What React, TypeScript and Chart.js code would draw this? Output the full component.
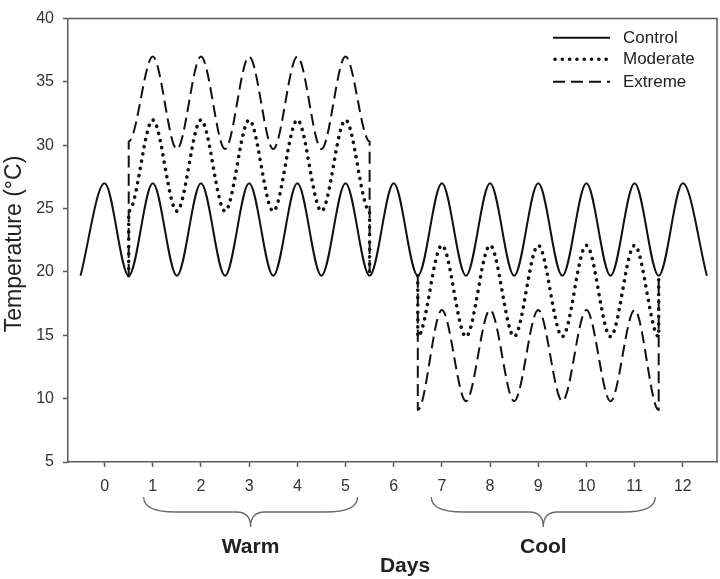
import { useEffect, useRef } from "react";
import { Chart, registerables } from "chart.js";

Chart.register(...registerables);

// ---- Data ----
const xTickValues = [0, 1, 2, 3, 4, 5, 6, 7, 8, 9, 10, 11, 12];
const yTickValues = [5, 10, 15, 20, 25, 30, 35, 40];

const controlDays = [
  -0.5, 0, 0.5, 1, 1.5, 2, 2.5, 3, 3.5, 4, 4.5, 5, 5.5, 6, 6.5, 7, 7.5, 8, 8.5, 9, 9.5, 10, 10.5, 11, 11.5, 12, 12.5,
];
const controlTemps = [
  19.7, 27.0, 19.7, 27.0, 19.7, 27.0, 19.7, 27.0, 19.7, 27.0, 19.7, 27.0, 19.7, 27.0, 19.7, 27.0, 19.7, 27.0, 19.7,
  27.0, 19.7, 27.0, 19.7, 27.0, 19.7, 27.0, 19.7,
];

const warmDays = [0.5, 0.5, 1, 1.5, 2, 2.5, 3, 3.5, 4, 4.5, 5, 5.5, 5.5];
const moderateWarmTemps = [19.7, 24.8, 32.0, 24.8, 32.0, 24.8, 32.0, 24.8, 32.0, 24.8, 32.0, 24.8, 19.7];
const extremeWarmTemps = [19.7, 30.3, 37.0, 29.7, 37.0, 29.7, 37.0, 29.7, 37.0, 29.7, 37.0, 30.3, 19.7];

const coolDays = [6.5, 6.5, 7, 7.5, 8, 8.5, 9, 9.5, 10, 10.5, 11, 11.5, 11.5];
const moderateCoolTemps = [19.7, 14.9, 22.1, 14.9, 22.1, 14.9, 22.1, 14.9, 22.1, 14.9, 22.1, 14.9, 19.7];
const extremeCoolTemps = [19.7, 9.1, 17.0, 9.8, 17.0, 9.8, 17.0, 9.8, 17.0, 9.8, 17.0, 9.1, 19.7];

const seriesNames = ["Control", "Moderate", "Extreme"];
const periodNames = ["Warm", "Cool"];
const periodStarts = [0.81, 6.78];
const periodEnds = [5.25, 11.43];
const xAxisTitle = "Days";
const yAxisTitle = "Temperature (\u00B0C)";

// ---- Styles ----
const FONT = "'Liberation Sans', Arial, Helvetica, sans-serif";
const LINE_COLOR = "#111111";
const AXIS_COLOR = "#5a5a5a";
const TEXT_COLOR = "#333333";

const seriesStyles: Record<string, any> = {
  Control: { borderWidth: 2, borderDash: [], borderCapStyle: "butt" },
  Moderate: { borderWidth: 3.6, borderDash: [0.1, 7.2], borderCapStyle: "round" },
  Extreme: { borderWidth: 2, borderDash: [12, 6], borderCapStyle: "butt" },
};

const toPoints = (xs: number[], ys: number[]) => xs.map((x, i) => ({ x, y: ys[i] }));

const decorPlugin = {
  id: "decor",
  afterDraw(chart: any) {
    const { ctx, chartArea, scales } = chart;
    const { left, top, right, bottom } = chartArea;
    const xs = scales.x;
    ctx.save();

    // top and right frame
    ctx.strokeStyle = AXIS_COLOR;
    ctx.lineWidth = 1.5;
    ctx.setLineDash([]);
    ctx.beginPath();
    ctx.moveTo(left, top);
    ctx.lineTo(right, top);
    ctx.lineTo(right, bottom);
    ctx.stroke();

    // braces + period labels
    const yTop = 497;
    const yMid = 512;
    const yTip = 527;
    ctx.strokeStyle = "#6a6a6a";
    ctx.lineWidth = 1.3;
    periodNames.forEach((name, i) => {
      const x0 = xs.getPixelForValue(periodStarts[i]);
      const x1 = xs.getPixelForValue(periodEnds[i]);
      const xm = (x0 + x1) / 2;
      ctx.beginPath();
      ctx.moveTo(x0, yTop);
      ctx.quadraticCurveTo(x0, yMid, x0 + 32, yMid);
      ctx.lineTo(xm - 14, yMid);
      ctx.quadraticCurveTo(xm, yMid, xm, yTip);
      ctx.quadraticCurveTo(xm, yMid, xm + 14, yMid);
      ctx.lineTo(x1 - 32, yMid);
      ctx.quadraticCurveTo(x1, yMid, x1, yTop);
      ctx.stroke();

      ctx.fillStyle = "#222222";
      ctx.font = `bold 21px ${FONT}`;
      ctx.textAlign = "center";
      ctx.textBaseline = "alphabetic";
      ctx.fillText(name, xm, 553);
    });

    // x axis title
    ctx.fillStyle = "#222222";
    ctx.font = `bold 21px ${FONT}`;
    ctx.textAlign = "center";
    ctx.textBaseline = "alphabetic";
    ctx.fillText(xAxisTitle, 405, 572);

    // y axis title
    ctx.save();
    ctx.translate(21, 244);
    ctx.rotate(-Math.PI / 2);
    ctx.font = `23px ${FONT}`;
    ctx.fillStyle = "#222222";
    ctx.textAlign = "center";
    ctx.textBaseline = "alphabetic";
    ctx.fillText(yAxisTitle, 0, 0);
    ctx.restore();

    // legend
    const legendY = [37.7, 59.3, 81.7];
    seriesNames.forEach((name, i) => {
      const st = seriesStyles[name];
      ctx.strokeStyle = LINE_COLOR;
      ctx.lineWidth = st.borderWidth;
      ctx.lineCap = st.borderCapStyle;
      ctx.setLineDash(st.borderDash);
      ctx.beginPath();
      ctx.moveTo(name === "Moderate" ? 555 : 553, legendY[i]);
      ctx.lineTo(610, legendY[i]);
      ctx.stroke();
      ctx.setLineDash([]);
      ctx.fillStyle = "#222222";
      ctx.font = `17px ${FONT}`;
      ctx.textAlign = "left";
      ctx.textBaseline = "middle";
      ctx.fillText(name, 623, legendY[i] + 0.5);
    });

    ctx.restore();
  },
};

export default function App() {
  const canvasRef = useRef<HTMLCanvasElement | null>(null);

  useEffect(() => {
    const canvas = canvasRef.current;
    if (!canvas) return;

    const mk = (label: string, xs: number[], ys: number[]) => ({
      label,
      data: toPoints(xs, ys),
      borderColor: LINE_COLOR,
      backgroundColor: LINE_COLOR,
      pointRadius: 0,
      pointHoverRadius: 0,
      fill: false,
      cubicInterpolationMode: "monotone" as const,
      borderJoinStyle: "round" as const,
      ...seriesStyles[label],
    });

    const chart = new Chart(canvas, {
      type: "line",
      data: {
        datasets: [
          mk("Control", controlDays, controlTemps),
          mk("Moderate", warmDays, moderateWarmTemps),
          mk("Moderate", coolDays, moderateCoolTemps),
          mk("Extreme", warmDays, extremeWarmTemps),
          mk("Extreme", coolDays, extremeCoolTemps),
        ],
      },
      options: {
        responsive: false,
        animation: false,
        events: [],
        layout: { padding: { left: 0, top: 7, right: 3, bottom: 0 } },
        plugins: {
          legend: { display: false },
          tooltip: { enabled: false },
          title: { display: false },
        },
        scales: {
          x: {
            type: "linear",
            min: -0.76,
            max: 12.71,
            afterFit: (s: any) => {
              s.height = 117;
            },
            afterBuildTicks: (s: any) => {
              s.ticks = xTickValues.map((v) => ({ value: v }));
            },
            ticks: {
              autoSkip: false,
              maxRotation: 0,
              color: TEXT_COLOR,
              font: { family: FONT, size: 16 },
              padding: 10,
              callback: (v: any) => String(v),
            },
            grid: {
              drawOnChartArea: false,
              drawTicks: true,
              tickLength: 5,
              tickColor: AXIS_COLOR,
              tickWidth: 1.5,
            },
            border: { display: true, color: AXIS_COLOR, width: 1.5 },
          },
          y: {
            type: "linear",
            min: 5,
            max: 40,
            afterFit: (s: any) => {
              s.width = 68;
            },
            afterBuildTicks: (s: any) => {
              s.ticks = yTickValues.map((v) => ({ value: v }));
            },
            ticks: {
              autoSkip: false,
              color: TEXT_COLOR,
              font: { family: FONT, size: 16 },
              padding: 9,
              callback: (v: any) => String(v),
            },
            grid: {
              drawOnChartArea: false,
              drawTicks: true,
              tickLength: 5,
              tickColor: AXIS_COLOR,
              tickWidth: 1.5,
            },
            border: { display: true, color: AXIS_COLOR, width: 1.5 },
          },
        },
      },
      plugins: [decorPlugin],
    });

    return () => chart.destroy();
  }, []);

  return (
    <div style={{ position: "absolute", left: 0, top: 0, width: 720, height: 579, background: "#ffffff" }}>
      <canvas ref={canvasRef} width={720} height={579} style={{ display: "block" }} />
    </div>
  );
}
